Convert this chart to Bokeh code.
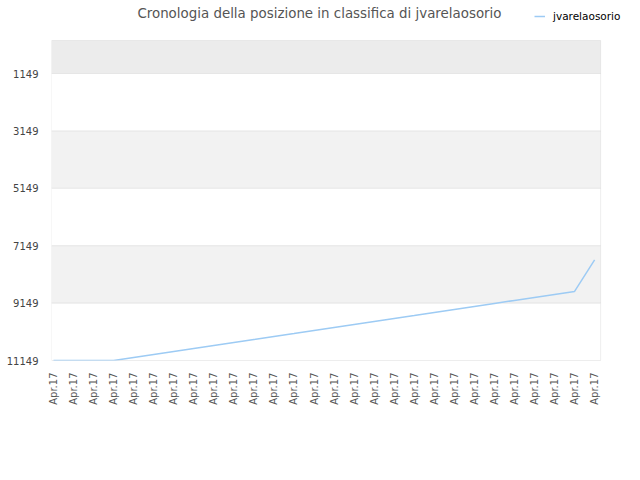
"""
rank history chart: position in the ranking of jvarelaosorio
"""
import math
from bokeh.plotting import figure
from bokeh.models import (Range1d, FixedTicker, BoxAnnotation, Legend,
                          LegendItem, Label)
from bokeh.embed import file_html
from bokeh.resources import INLINE


# data
x_labels = ['Apr.17'] * 28
positions = [11149, 11149, 11149, 11149, 11044, 10939, 10835, 10730, 10625,
             10521, 10416, 10311, 10207, 10102, 9997, 9893, 9788, 9683,
             9579, 9474, 9369, 9265, 9160, 9055, 8951, 8846, 8741, 7640]
y_ticks = [1149, 3149, 5149, 7149, 9149, 11149]
band_bottoms = [0, 3149, 7149]
band_tops = [1149, 5149, 9149]
band_colors = ['#ececec', '#f2f2f2', '#f2f2f2']

series_name = 'jvarelaosorio'
title_text = 'Cronologia della posizione in classifica di jvarelaosorio'

x_values = list(range(len(positions)))

# plot area limits (the frame is wider/taller so title and legend are not clipped)
x_lo, x_hi = -0.1, 27.3
y_lo, y_hi = 0, 11149

p = figure(width=636, height=476,
           x_range=Range1d(x_lo, 29.09),
           y_range=Range1d(y_hi, -1395),
           output_backend="svg", toolbar_location=None,
           min_border_left=51, min_border_right=0,
           min_border_top=0, min_border_bottom=116)

p.background_fill_color = 'white'
p.border_fill_color = 'white'
p.outline_line_color = None
p.xgrid.grid_line_color = None
p.ygrid.grid_line_color = None

# alternating bands
for lo, hi, c in zip(band_bottoms, band_tops, band_colors):
    p.add_layout(BoxAnnotation(left=x_lo, right=x_hi, bottom=lo, top=hi,
                               fill_color=c, fill_alpha=1.0, line_color=None,
                               level='underlay'))

# grid lines at the ticks, limited to the plot area
for t in y_ticks:
    p.add_layout(BoxAnnotation(left=x_lo, right=x_hi, bottom=t, top=t,
                               fill_alpha=0, line_color='#d8d8d8',
                               line_width=1, level='underlay'))

# plot area border
p.add_layout(BoxAnnotation(left=x_lo, right=x_hi, bottom=y_lo, top=y_hi,
                           fill_alpha=0, line_color='#c8c8c8', line_width=1,
                           level='underlay'))

# y axis
p.yaxis.ticker = FixedTicker(ticks=y_ticks)
p.yaxis.axis_line_color = None
p.yaxis.major_tick_line_color = None
p.yaxis.minor_tick_line_color = None
p.yaxis.major_tick_out = 0
p.yaxis.major_label_standoff = 13
p.yaxis.major_label_text_font = 'DejaVu Sans'
p.yaxis.major_label_text_font_size = '10px'
p.yaxis.major_label_text_color = '#444444'

# x axis
p.xaxis.ticker = FixedTicker(ticks=x_values)
p.xaxis.major_label_overrides = {i: lab for i, lab in zip(x_values, x_labels)}
p.xaxis.major_label_orientation = math.pi / 2
p.xaxis.axis_line_color = None
p.xaxis.major_tick_line_color = None
p.xaxis.minor_tick_line_color = None
p.xaxis.major_tick_out = 0
p.xaxis.major_label_standoff = 12
p.xaxis.major_label_text_font = 'DejaVu Sans'
p.xaxis.major_label_text_font_size = '10px'
p.xaxis.major_label_text_color = '#555555'

# the series
line = p.line(x_values, positions, line_color='#9dcbf4', line_width=1.5)

# title
p.add_layout(Label(x=13.27, y=-958, text=title_text,
                   text_align='center', text_baseline='middle',
                   text_font='DejaVu Sans', text_font_size='13.4px',
                   text_color='#555555'))

# legend, top right
legend = Legend(items=[LegendItem(label=series_name, renderers=[line])],
                location=(483, 338), orientation='horizontal',
                padding=0, margin=0, spacing=0,
                glyph_width=11, glyph_height=12, label_standoff=8,
                label_text_font='DejaVu Sans', label_text_font_size='10.5px',
                label_text_color='black',
                border_line_color=None, background_fill_alpha=0)
p.add_layout(legend, 'center')

open("out.html", "w").write(file_html(p, INLINE))
